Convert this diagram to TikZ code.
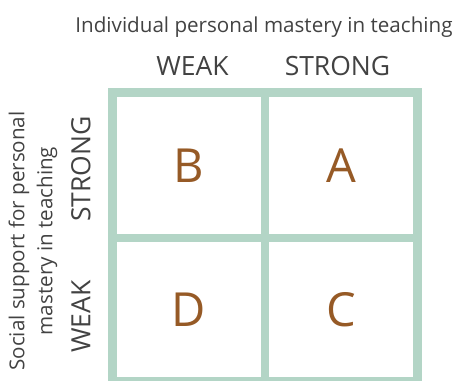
\documentclass[tikz,border=0pt]{standalone}
\usepackage{fontspec}
\setmainfont{Open Sans}
\definecolor{gridgreen}{RGB}{179,213,198}
\definecolor{letterbrown}{RGB}{150,90,38}
\definecolor{labelgrey}{RGB}{66,66,66}

\begin{document}
\begin{tikzpicture}[x=1pt,y=-1pt,
    cell/.style={fill=white, inner sep=0pt, minimum width=144pt, text=letterbrown,
        font=\fontsize{47}{50}\selectfont},
    axislabel/.style={inner sep=0pt, text=labelgrey, font=\fontsize{26.5}{30}\selectfont},
    titlelabel/.style={inner sep=0pt, text=labelgrey, font=\fontsize{20.6}{28}\selectfont}]
    \def\colB{189}
    \def\colA{341}
    \def\rowtop{165.25}
    \def\rowbot{309.5}

    \useasboundingbox (0,0) rectangle (461,381);

    % frame
    \fill[gridgreen] (108,87.5) rectangle (422,381);

    % cells
    \node[cell, minimum height=137.5pt] (cellB) at (\colB,\rowtop) {B};
    \node[cell, minimum height=137.5pt] (cellA) at (\colA,\rowtop) {A};
    \node[cell, minimum height=135pt] (cellD) at (\colB,\rowbot) {D};
    \node[cell, minimum height=135pt] (cellC) at (\colA,\rowbot) {C};

    % top labels
    \node[titlelabel, anchor=base] (toptitle) at (264,32) {Individual personal mastery in teaching};
    \node[axislabel] (topweak) at (192.5,65.5) {WEAK};
    \node[axislabel] (topstrong) at (337.5,66) {STRONG};

    % side labels
    \node[titlelabel, rotate=90, align=center] (sidetitle) at (33,241)
        {Social support for personal\\mastery in teaching};
    \node[axislabel, rotate=90] (sidestrong) at (81,169) {STRONG};
    \node[axislabel, rotate=90] (sideweak) at (81,316.5) {WEAK};

\end{tikzpicture}
\end{document}
